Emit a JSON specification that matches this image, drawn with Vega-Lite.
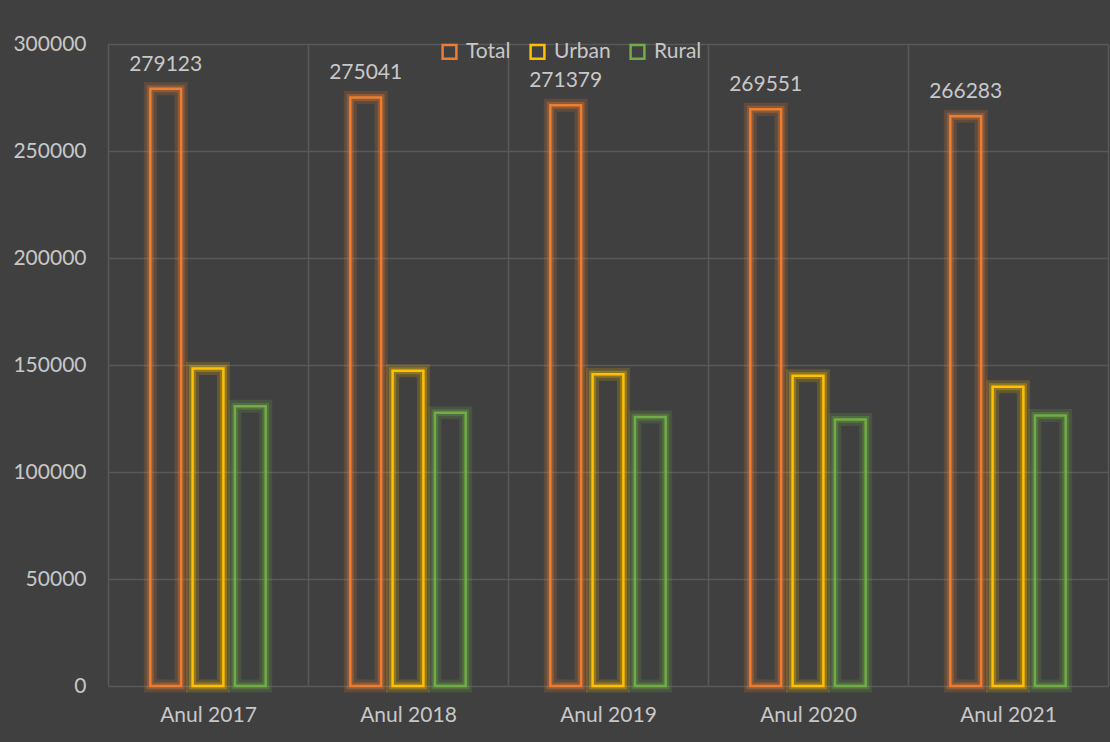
{
  "$schema": "https://vega.github.io/schema/vega-lite/v6.json",
  "width": 1000,
  "height": 642,
  "autosize": {"type": "none"},
  "padding": {"left": 108, "top": 44, "right": 2, "bottom": 56},
  "background": "#404040",
  "config": {
    "font": "Lato",
    "view": {"stroke": null},
    "axis": {"labelColor": "#c8c8c8", "labelFontSize": 21, "gridColor": "#595959", "gridWidth": 1.5, "domain": false, "ticks": false, "title": null},
    "legend": {"labelColor": "#c8c8c8", "labelFontSize": 21}
  },
  "data": {
    "values": [
      {"year": "Anul 2017", "series": "Total", "value": 279123},
      {"year": "Anul 2017", "series": "Urban", "value": 148400},
      {"year": "Anul 2017", "series": "Rural", "value": 130700},
      {"year": "Anul 2018", "series": "Total", "value": 275041},
      {"year": "Anul 2018", "series": "Urban", "value": 147330},
      {"year": "Anul 2018", "series": "Rural", "value": 127710},
      {"year": "Anul 2019", "series": "Total", "value": 271379},
      {"year": "Anul 2019", "series": "Urban", "value": 145650},
      {"year": "Anul 2019", "series": "Rural", "value": 125730},
      {"year": "Anul 2020", "series": "Total", "value": 269551},
      {"year": "Anul 2020", "series": "Urban", "value": 144990},
      {"year": "Anul 2020", "series": "Rural", "value": 124560},
      {"year": "Anul 2021", "series": "Total", "value": 266283},
      {"year": "Anul 2021", "series": "Urban", "value": 139880},
      {"year": "Anul 2021", "series": "Rural", "value": 126400}
    ]
  },
  "encoding": {
    "x": {
      "field": "year", "type": "nominal",
      "scale": {"paddingInner": 0, "paddingOuter": 0},
      "axis": {"labelAngle": 0, "labelPadding": 18, "grid": true, "tickBand": "extent"}
    },
    "y": {
      "field": "value", "type": "quantitative",
      "scale": {"domain": [0, 300000]},
      "axis": {"values": [0, 50000, 100000, 150000, 200000, 250000, 300000], "format": "d", "labelPadding": 22, "grid": true}
    }
  },
  "layer": [
    {
      "mark": {"type": "bar", "fill": "transparent", "strokeWidth": 13, "strokeOpacity": 0.18},
      "encoding": {
        "xOffset": {"field": "series", "type": "nominal", "sort": ["Total", "Urban", "Rural"], "scale": {"paddingInner": 0.272, "paddingOuter": 1.105}},
        "stroke": {
          "field": "series", "type": "nominal", "sort": ["Total", "Urban", "Rural"],
          "scale": {"domain": ["Total", "Urban", "Rural"], "range": ["#ED7D31", "#FFC000", "#70AD47"]},
          "legend": {
            "orient": "none", "legendX": 331, "legendY": -3, "direction": "horizontal", "title": null,
            "symbolType": "square", "symbolSize": 190, "symbolStrokeWidth": 2.5, "symbolFillColor": "transparent",
            "symbolOpacity": 1, "columnPadding": 14, "labelOffset": 6
          }
        }
      }
    },
    {
      "mark": {"type": "bar", "fill": "transparent", "strokeWidth": 7, "strokeOpacity": 0.3},
      "encoding": {
        "xOffset": {"field": "series", "type": "nominal", "sort": ["Total", "Urban", "Rural"]},
        "stroke": {"field": "series", "type": "nominal", "sort": ["Total", "Urban", "Rural"]}
      }
    },
    {
      "mark": {"type": "bar", "fill": "transparent", "strokeWidth": 2.5},
      "encoding": {
        "xOffset": {"field": "series", "type": "nominal", "sort": ["Total", "Urban", "Rural"]},
        "stroke": {"field": "series", "type": "nominal", "sort": ["Total", "Urban", "Rural"]}
      }
    },
    {
      "transform": [{"filter": "datum.series === 'Total'"}],
      "mark": {"type": "text", "dy": -24, "fontSize": 21, "color": "#c8c8c8", "baseline": "middle"},
      "encoding": {
        "xOffset": {"field": "series", "type": "nominal", "sort": ["Total", "Urban", "Rural"]},
        "text": {"field": "value", "type": "quantitative", "format": "d"}
      }
    }
  ]
}
